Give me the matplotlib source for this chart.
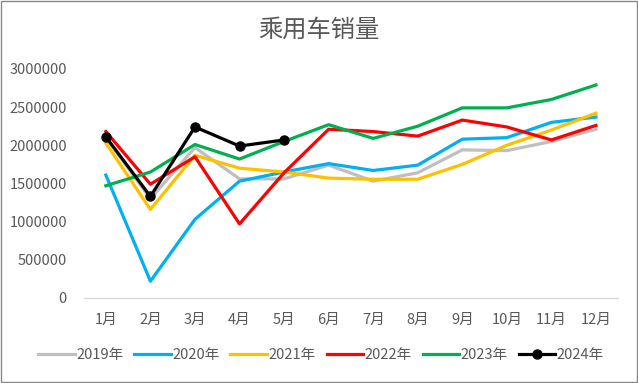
import matplotlib
matplotlib.use("Agg")
import matplotlib.pyplot as plt
from matplotlib.patches import Rectangle

plt.rcParams['font.family'] = ['Noto Sans CJK SC', 'DejaVu Sans']

# monthly passenger car sales
months = ['1月', '2月', '3月', '4月', '5月', '6月', '7月', '8月', '9月', '10月', '11月', '12月']
sales_2019 = [2100000, 1300000, 1970000, 1560000, 1560000, 1740000, 1530000, 1640000, 1940000, 1930000, 2050000, 2210000]
sales_2020 = [1610000, 220000, 1030000, 1530000, 1650000, 1760000, 1670000, 1740000, 2080000, 2100000, 2300000, 2370000]
sales_2021 = [2030000, 1160000, 1870000, 1700000, 1650000, 1570000, 1555000, 1555000, 1750000, 2000000, 2200000, 2420000]
sales_2022 = [2180000, 1490000, 1850000, 970000, 1640000, 2210000, 2180000, 2120000, 2330000, 2240000, 2070000, 2260000]
sales_2023 = [1470000, 1650000, 2010000, 1820000, 2050000, 2270000, 2090000, 2250000, 2490000, 2490000, 2600000, 2790000]
sales_2024 = [2110000, 1330000, 2240000, 1990000, 2070000]

series_names = ['2019年', '2020年', '2021年', '2022年', '2023年', '2024年']
series_colors = ['#BFBFBF', '#00B0F0', '#FFC000', '#FF0000', '#00B050', '#000000']
yticks = [0, 500000, 1000000, 1500000, 2000000, 2500000, 3000000]

fig = plt.figure(figsize=(6.38, 3.83), dpi=100)
ax = fig.add_axes([0.131, 0.222, 0.838, 0.598])

all_series = [sales_2019, sales_2020, sales_2021, sales_2022, sales_2023, sales_2024]
x = list(range(len(months)))
for name, vals, col in zip(series_names, all_series, series_colors):
    if name == '2024年':
        ax.plot(x[:len(vals)], vals, color=col, lw=2.3, marker='o', ms=6.5, label=name)
    else:
        ax.plot(x[:len(vals)], vals, color=col, lw=2.3, label=name)

ax.set_xlim(-0.5, len(months) - 0.5)
ax.set_ylim(0, 3000000)
ax.set_yticks(yticks)
ax.set_yticklabels([str(v) for v in yticks])
ax.set_xticks(x)
ax.set_xticklabels(months)
ax.tick_params(axis='both', length=0, labelsize=10.5, colors='#595959')
ax.tick_params(axis='x', pad=11)
ax.tick_params(axis='y', pad=12)
for side in ['top', 'right', 'left']:
    ax.spines[side].set_visible(False)
ax.spines['bottom'].set_color('#D9D9D9')
ax.spines['bottom'].set_linewidth(1.0)

fig.text(0.5, 0.922, '乘用车销量', ha='center', va='center', fontsize=17.5, color='#595959')

fig.legend(loc='center', bbox_to_anchor=(0.503, 0.073), ncol=6, frameon=False,
           fontsize=10.5, handlelength=2.5, handletextpad=0.1, columnspacing=0.75,
           labelcolor='#595959')

fig.patches.append(Rectangle((0.001, 0.002), 0.997, 0.996, transform=fig.transFigure,
                             fill=False, edgecolor='#888888', lw=1))

fig.savefig('out.png', dpi=100)
